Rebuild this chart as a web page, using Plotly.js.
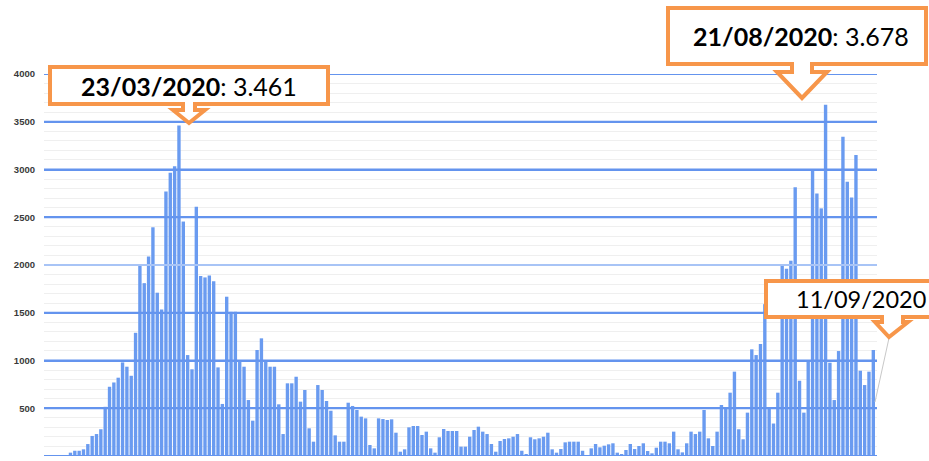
<!DOCTYPE html>
<html>
<head>
<meta charset="utf-8">
<script src="https://cdn.plot.ly/plotly-3.0.1.min.js"></script>
<style>
  html, body { margin: 0; padding: 0; background: #ffffff; }
  #chart { width: 929px; height: 461px; }
</style>
</head>
<body>
<div id="chart"></div>
<script>
// Daily new cases, one value per bar
const cases = [
  3, 5, 5, 8, 10, 35, 55, 55, 70, 125, 210, 230, 280, 515, 725, 770, 820, 980, 935, 840,
  1290, 2000, 1810, 2090, 2395, 1710, 1535, 2770, 2965, 3035, 3461, 2455,
  1057, 908, 2610, 1885, 1870, 1890, 1830, 928, 545, 1668, 1510, 1510, 998, 935, 586, 370,
  1110, 1232, 1005, 935, 935, 541, 230, 761, 761, 830, 569, 691, 290, 150, 743, 691,
  576, 474, 216, 150, 150, 558, 524, 482, 412, 394, 115, 80, 394, 387, 377, 384,
  244, 45, 70, 300, 314, 314, 220, 255, 80, 35, 196, 283, 262, 262, 262, 98,
  98, 202, 272, 307, 255, 230, 126, 45, 157, 178, 185, 202, 230, 55, 21, 196,
  175, 185, 202, 244, 70, 35, 73, 143, 150, 150, 150, 55, 10, 80, 126, 91,
  108, 122, 133, 35, 21, 63, 126, 73, 105, 133, 52, 28, 87, 150, 150, 133, 255,
  70, 38, 133, 255, 230, 255, 482, 185, 105, 255, 534, 510, 663, 883, 280, 175,
  454, 1117, 1057, 1173, 1590, 510, 340, 663, 1990, 1960, 2045, 2813, 788, 454, 988,
  2987, 2750, 2593, 3678, 977, 586, 1099, 3343, 2872, 2708, 3151, 893, 743, 883, 1110
];
// Bar categories (day index)
const days = cases.map((_, i) => i);
// Y axis ticks
const yTicks = [0, 500, 1000, 1500, 2000, 2500, 3000, 3500, 4000];
const yTickText = ["0", "500", "1000", "1500", "2000", "2500", "3000", "3500", "4000"];
// Callout labels
const callouts = [
  { label: "<b>23/03/2020</b>: 3.461" },
  { label: "<b>21/08/2020</b>: 3.678" },
  { label: "11/09/2020" }
];

// --- layout helpers (pixel -> paper) ---
const L = 44, R = 877, T = 74, B = 456;
const W = R - L, H = B - T;
const px = x => (x - L) / W;
const py = y => (B - y) / H;
const P = (x, y) => px(x).toFixed(5) + "," + py(y).toFixed(5);

function calloutPath(x0, y0, x1, y1, nl, nr, hl, hr, sy, tx, ty) {
  return "M" + P(x0, y0) + " L" + P(x1, y0) + " L" + P(x1, y1) +
    " L" + P(nr, y1) + " L" + P(nr, sy) + " L" + P(hr, sy) + " L" + P(tx, ty) +
    " L" + P(hl, sy) + " L" + P(nl, sy) + " L" + P(nl, y1) + " L" + P(x0, y1) + " Z";
}

const orange = "#f7964a";
const gridBlue = "#6494ee";

const shapes = [];
yTicks.forEach(t => {
  shapes.push({
    type: "line", xref: "paper", yref: "y", x0: 0, x1: 1, y0: t, y1: t,
    line: { color: t === 2000 ? "#a8c4f6" : gridBlue, width: 2 }, layer: "above"
  });
});
// leader line to last bar
shapes.push({ type: "line", xref: "paper", yref: "paper",
  x0: px(889), y0: py(338), x1: px(875), y1: py(402),
  line: { color: "#c8c8c8", width: 1 }, layer: "above" });
// callout boxes
shapes.push({ type: "path", xref: "paper", yref: "paper", layer: "above",
  path: calloutPath(50, 67, 328, 104, 183, 195, 173, 205, 110, 189, 123),
  fillcolor: "#ffffff", line: { color: orange, width: 4 } });
shapes.push({ type: "path", xref: "paper", yref: "paper", layer: "above",
  path: calloutPath(668, 8, 926, 64, 792, 812, 777, 827, 72, 802, 98),
  fillcolor: "#ffffff", line: { color: orange, width: 4 } });
shapes.push({ type: "path", xref: "paper", yref: "paper", layer: "above",
  path: calloutPath(766, 281, 960, 317, 882, 903, 875, 908, 322, 889, 337),
  fillcolor: "#ffffff", line: { color: orange, width: 4 } });

const calloutFont = { family: "Lato, 'Open Sans', sans-serif", size: 25, color: "#000000" };
const annotations = [
  { xref: "paper", yref: "paper", x: px(189), y: py(86), xanchor: "center", yanchor: "middle",
    text: callouts[0].label, showarrow: false, font: calloutFont },
  { xref: "paper", yref: "paper", x: px(801), y: py(36), xanchor: "center", yanchor: "middle",
    text: callouts[1].label, showarrow: false, font: calloutFont },
  { xref: "paper", yref: "paper", x: px(794), y: py(299), xanchor: "left", yanchor: "middle",
    text: callouts[2].label, showarrow: false,
    font: { family: calloutFont.family, size: 23.5, color: "#000000" } }
];

const trace = {
  type: "bar", x: days, y: cases,
  marker: { color: "#6a9bf0", line: { width: 0 } },
  hoverinfo: "y"
};

const layout = {
  width: 929, height: 461,
  margin: { l: L, r: 929 - R, t: T, b: 461 - B, pad: 0 },
  paper_bgcolor: "#ffffff", plot_bgcolor: "#ffffff",
  bargap: 0.22,
  showlegend: false,
  xaxis: { range: [-1.1, days.length - 0.15], showticklabels: false, showgrid: false,
           zeroline: false, showline: false, ticks: "", fixedrange: true },
  yaxis: { range: [0, 4000], tickvals: yTicks, ticktext: yTickText, showgrid: true,
           gridcolor: gridBlue, gridwidth: 2, zeroline: false, showline: false, ticks: "",
           ticklabelstandoff: 8,
           tickfont: { family: "'Liberation Sans', Arial, sans-serif", size: 9.5, color: "#3a3a3a", weight: "bold" },
           minor: { dtick: 100, showgrid: true, gridcolor: "#efefef", gridwidth: 1, ticks: "" },
           fixedrange: true },
  shapes: shapes,
  annotations: annotations
};

Plotly.newPlot("chart", [trace], layout, { displayModeBar: false, staticPlot: true });
</script>
</body>
</html>
